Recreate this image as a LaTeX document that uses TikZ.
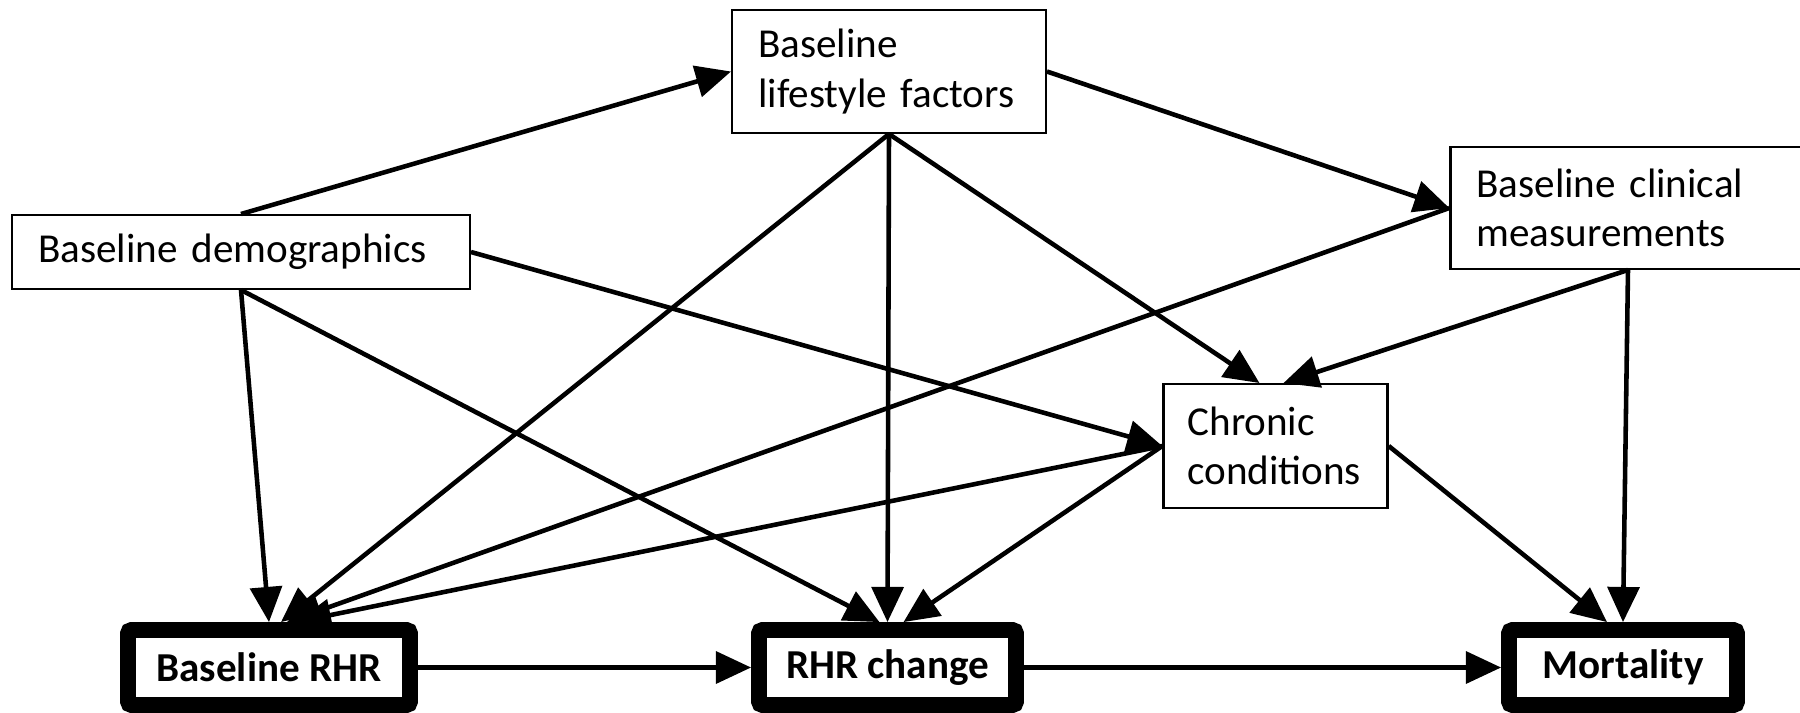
\documentclass[tikz,border=0pt]{standalone}
\usepackage{fontspec}
\setmainfont{Carlito}
\usepackage{tikz}
\usetikzlibrary{arrows.meta,positioning}

\tikzset{
  box/.style={draw, line width=0.7pt, align=left, inner xsep=2.6mm, inner ysep=0pt,
    font=\fontsize{11.7}{14}\selectfont},
  outcome/.style={draw, line width=4.5pt, rounded corners=1pt, inner sep=0pt,
    minimum height=7.5mm, font=\fontsize{11.7}{14}\selectfont\bfseries},
  arr/.style={-{Triangle[length=10pt,width=9pt]}, line width=1.3pt}
}

\begin{document}
\begin{tikzpicture}

  \useasboundingbox (0,0) rectangle (18,7.12);

  \node[box, text width=26.15mm, minimum height=12.25mm] (lif) at (8.89,6.405) {Baseline\\lifestyle factors};
  \node[box, text width=40.55mm, minimum height=7.35mm] (demo) at (2.41,4.60) {Baseline demographics};
  \node[box, text width=30.3mm, minimum height=12.15mm] (clin) at (16.28,5.04) {Baseline clinical\\measurements};
  \node[box, text width=17.6mm, inner xsep=2.4mm, minimum height=12.35mm] (chron) at (12.755,2.66) {Chronic\\conditions};

  \node[outcome, minimum width=28.2mm] (brhr) at (2.69,0.445) {Baseline RHR};
  \node[outcome, minimum width=25.7mm] (rhrc) at (8.875,0.445) {RHR change};
  \node[outcome, minimum width=22.8mm] (mort) at (16.23,0.445) {Mortality};

  \draw[arr] (demo.north) -- (lif.west);
  \draw[arr] (lif.east) -- (clin.west);
  \draw[arr] (demo.south) -- (brhr.north);
  \draw[arr] (demo.south) -- ([xshift=-0.8mm]rhrc.north);
  \draw[arr] (demo.east) -- (chron.west);
  \draw[arr] (lif.south) -- ([xshift=1.2mm]brhr.north);
  \draw[arr] (lif.south) -- (rhrc.north);
  \draw[arr] (lif.south) -- ([xshift=-1.6mm]chron.north);
  \draw[arr] (clin.west) -- ([xshift=1.8mm]brhr.north);
  \draw[arr] (clin.south) -- ([xshift=0.8mm]chron.north);
  \draw[arr] (clin.south) -- (mort.north);
  \draw[arr] (chron.west) -- ([xshift=2.7mm]brhr.north);
  \draw[arr] (chron.west) -- ([xshift=1.6mm]rhrc.north);
  \draw[arr] (chron.east) -- ([xshift=-1.6mm]mort.north);
  \draw[arr] (brhr.east) -- (rhrc.west);
  \draw[arr] (rhrc.east) -- (mort.west);

\end{tikzpicture}
\end{document}
